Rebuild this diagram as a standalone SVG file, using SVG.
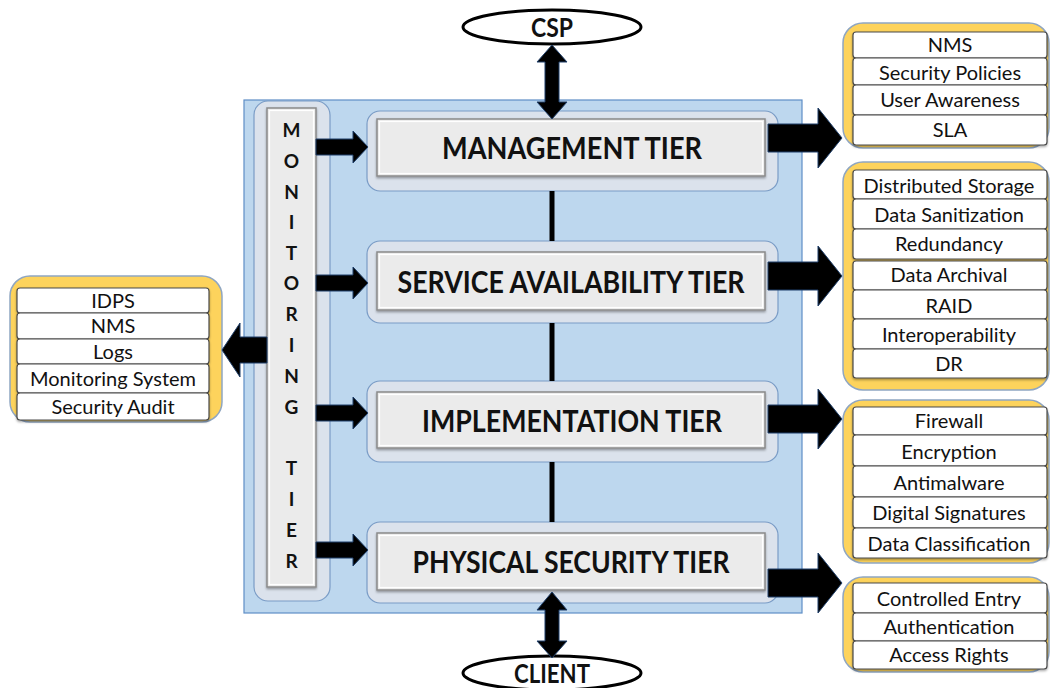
<svg xmlns="http://www.w3.org/2000/svg" width="1050" height="688" viewBox="0 0 1050 688">
<defs>
<filter id="sh" x="-10%" y="-10%" width="120%" height="130%">
<feDropShadow dx="0" dy="1.5" stdDeviation="1.2" flood-color="#000" flood-opacity="0.35"/>
</filter>
<style>
.main{fill:#bdd7ee;stroke:#5e8ec6;stroke-width:1.2}
.outer{fill:#dbe2ec;stroke:#7a9cc6;stroke-width:1.2}
.inner{fill:#ebebeb;stroke:#8a8a8a;stroke-width:1.5}
.hl{fill:none;stroke:#ffffff;stroke-width:1.2}
.box{fill:#fdd35c;stroke:#8fa6c2;stroke-width:1.5}
.item{fill:#ffffff;stroke:#4a4a4a;stroke-width:1.2}
.tier{font-family:Lato,"Liberation Sans",sans-serif;font-weight:bold;font-size:30px;fill:#111;text-anchor:middle}
.mon{font-family:Lato,"Liberation Sans",sans-serif;font-weight:bold;font-size:19px;fill:#111;text-anchor:middle}
.it{font-family:Lato,"Liberation Sans",sans-serif;font-size:20px;fill:#111;text-anchor:middle}
.ell{fill:#ffffff;stroke:#000;stroke-width:3}
.ellt{font-family:Lato,"Liberation Sans",sans-serif;font-weight:bold;font-size:27px;fill:#111;text-anchor:middle}
.arr{fill:#000;stroke:#1f3f6a;stroke-width:1}
.vl{stroke:#000;stroke-width:5}
</style>
</defs>

<rect class="main" x="244" y="100" width="558" height="513"/>

<g id="csp">
<ellipse class="ell" cx="552" cy="27" rx="89" ry="17"/>
<text class="ellt" x="552" y="37" textLength="42" lengthAdjust="spacingAndGlyphs">CSP</text>
</g>
<g id="client">
<ellipse class="ell" cx="552" cy="673" rx="89" ry="17"/>
<text class="ellt" x="552" y="683" textLength="76" lengthAdjust="spacingAndGlyphs">CLIENT</text>
</g>

<g id="monitoring-tier">
<rect class="outer" x="254" y="101" width="76" height="500" rx="14"/>
<rect class="inner" x="267" y="108" width="49" height="479" filter="url(#sh)"/>
<rect class="hl" x="269.5" y="110.5" width="44" height="474"/>
<text class="mon" x="291.5" y="137">M</text>
<text class="mon" x="291.5" y="168">O</text>
<text class="mon" x="291.5" y="199">N</text>
<text class="mon" x="291.5" y="229">I</text>
<text class="mon" x="291.5" y="260">T</text>
<text class="mon" x="291.5" y="290">O</text>
<text class="mon" x="291.5" y="321">R</text>
<text class="mon" x="291.5" y="352">I</text>
<text class="mon" x="291.5" y="383">N</text>
<text class="mon" x="291.5" y="414">G</text>
<text class="mon" x="291.5" y="475">T</text>
<text class="mon" x="291.5" y="506">I</text>
<text class="mon" x="291.5" y="537">E</text>
<text class="mon" x="291.5" y="568">R</text>
</g>

<g id="management-tier">
<rect class="outer" x="367" y="111" width="411" height="80" rx="13"/>
<rect class="inner" x="377" y="119" width="388" height="57" filter="url(#sh)"/>
<rect class="hl" x="379.5" y="121.5" width="383" height="52"/>
<text class="tier" x="572" y="159" textLength="260" lengthAdjust="spacingAndGlyphs">MANAGEMENT TIER</text>
</g>
<g id="service-availability-tier">
<rect class="outer" x="367" y="241" width="411" height="82" rx="13"/>
<rect class="inner" x="377" y="252" width="388" height="58" filter="url(#sh)"/>
<rect class="hl" x="379.5" y="254.5" width="383" height="53"/>
<text class="tier" x="571" y="293" textLength="347" lengthAdjust="spacingAndGlyphs">SERVICE AVAILABILITY TIER</text>
</g>
<g id="implementation-tier">
<rect class="outer" x="367" y="381" width="411" height="81" rx="13"/>
<rect class="inner" x="377" y="392" width="388" height="56" filter="url(#sh)"/>
<rect class="hl" x="379.5" y="394.5" width="383" height="51"/>
<text class="tier" x="572" y="432" textLength="300" lengthAdjust="spacingAndGlyphs">IMPLEMENTATION TIER</text>
</g>
<g id="physical-security-tier">
<rect class="outer" x="367" y="522" width="411" height="81" rx="13"/>
<rect class="inner" x="377" y="533" width="388" height="57" filter="url(#sh)"/>
<rect class="hl" x="379.5" y="535.5" width="383" height="52"/>
<text class="tier" x="571" y="573" textLength="317" lengthAdjust="spacingAndGlyphs">PHYSICAL SECURITY TIER</text>
</g>

<g id="monitoring-list">
<rect class="box" x="10" y="276" width="212" height="146" rx="20"/>
<rect class="item" x="17" y="288" width="192" height="25" rx="3" filter="url(#sh)"/>
<rect class="item" x="17" y="313" width="192" height="26" rx="3" filter="url(#sh)"/>
<rect class="item" x="17" y="339" width="192" height="25" rx="3" filter="url(#sh)"/>
<rect class="item" x="17" y="364" width="192" height="29" rx="3" filter="url(#sh)"/>
<rect class="item" x="17" y="393" width="192" height="27" rx="3" filter="url(#sh)"/>
<text class="it" x="113" y="308">IDPS</text>
<text class="it" x="113" y="333">NMS</text>
<text class="it" x="113" y="359">Logs</text>
<text class="it" x="113" y="386">Monitoring System</text>
<text class="it" x="113" y="414">Security Audit</text>
</g>

<g id="management-list">
<rect class="box" x="843" y="23" width="206" height="125" rx="20"/>
<rect class="item" x="853" y="32" width="194" height="26" rx="3" filter="url(#sh)"/>
<rect class="item" x="853" y="58" width="194" height="27" rx="3" filter="url(#sh)"/>
<rect class="item" x="853" y="85" width="194" height="30" rx="3" filter="url(#sh)"/>
<rect class="item" x="853" y="115" width="194" height="30" rx="3" filter="url(#sh)"/>
<text class="it" x="950" y="52">NMS</text>
<text class="it" x="950" y="80">Security Policies</text>
<text class="it" x="950" y="107">User Awareness</text>
<text class="it" x="950" y="137">SLA</text>
</g>

<g id="service-list">
<rect class="box" x="843" y="162" width="206" height="228" rx="20"/>
<rect class="item" x="853" y="170" width="194" height="29" rx="3" filter="url(#sh)"/>
<rect class="item" x="853" y="199" width="194" height="30" rx="3" filter="url(#sh)"/>
<rect class="item" x="853" y="229" width="194" height="30" rx="3" filter="url(#sh)"/>
<rect class="item" x="853" y="261" width="194" height="29" rx="3" filter="url(#sh)"/>
<rect class="item" x="853" y="290" width="194" height="29" rx="3" filter="url(#sh)"/>
<rect class="item" x="853" y="319" width="194" height="30" rx="3" filter="url(#sh)"/>
<rect class="item" x="853" y="349" width="194" height="29" rx="3" filter="url(#sh)"/>
<text class="it" x="949" y="193">Distributed Storage</text>
<text class="it" x="949" y="222">Data Sanitization</text>
<text class="it" x="949" y="251">Redundancy</text>
<text class="it" x="949" y="282">Data Archival</text>
<text class="it" x="949" y="313">RAID</text>
<text class="it" x="949" y="342">Interoperability</text>
<text class="it" x="949" y="371">DR</text>
</g>

<g id="implementation-list">
<rect class="box" x="843" y="400" width="206" height="163" rx="20"/>
<rect class="item" x="853" y="407" width="194" height="28" rx="3" filter="url(#sh)"/>
<rect class="item" x="853" y="435" width="194" height="31" rx="3" filter="url(#sh)"/>
<rect class="item" x="853" y="466" width="194" height="31" rx="3" filter="url(#sh)"/>
<rect class="item" x="853" y="497" width="194" height="31" rx="3" filter="url(#sh)"/>
<rect class="item" x="853" y="528" width="194" height="30" rx="3" filter="url(#sh)"/>
<text class="it" x="949" y="428">Firewall</text>
<text class="it" x="949" y="459">Encryption</text>
<text class="it" x="949" y="490">Antimalware</text>
<text class="it" x="949" y="520">Digital Signatures</text>
<text class="it" x="949" y="551">Data Classification</text>
</g>

<g id="physical-list">
<rect class="box" x="843" y="577" width="206" height="95" rx="20"/>
<rect class="item" x="853" y="583" width="194" height="30" rx="3" filter="url(#sh)"/>
<rect class="item" x="853" y="613" width="194" height="28" rx="3" filter="url(#sh)"/>
<rect class="item" x="853" y="641" width="194" height="28" rx="3" filter="url(#sh)"/>
<text class="it" x="949" y="606">Controlled Entry</text>
<text class="it" x="949" y="634">Authentication</text>
<text class="it" x="949" y="662">Access Rights</text>
</g>

<g id="connectors">
<line class="vl" x1="552" y1="191" x2="552" y2="241"/>
<line class="vl" x1="552" y1="323" x2="552" y2="381"/>
<line class="vl" x1="552" y1="462" x2="552" y2="522"/>
<path class="arr" d="M552,45 L567,62 H559 V102 H567 L552,119 L537,102 H545 V62 H537 Z"/>
<path class="arr" d="M552,592 L567,610 H559 V641 H567 L552,658 L537,641 H545 V610 H537 Z"/>
<path class="arr" d="M316,139 H353 V131 L368,147 L353,163 V155 H316 Z"/>
<path class="arr" d="M316,275 H353 V267 L368,283 L353,299 V291 H316 Z"/>
<path class="arr" d="M316,405 H353 V397 L368,413 L353,429 V421 H316 Z"/>
<path class="arr" d="M316,542 H353 V534 L368,550 L353,566 V558 H316 Z"/>
<path class="arr" d="M768,124 H818 V108 L842,138 L818,168 V152 H768 Z"/>
<path class="arr" d="M768,262 H818 V246 L842,276 L818,306 V290 H768 Z"/>
<path class="arr" d="M768,405 H818 V389 L842,419 L818,449 V433 H768 Z"/>
<path class="arr" d="M768,569 H818 V553 L842,583 L818,613 V597 H768 Z"/>
<path class="arr" d="M267,337 H240 V323 L222,350 L240,377 V363 H267 Z"/>
</g>
</svg>
